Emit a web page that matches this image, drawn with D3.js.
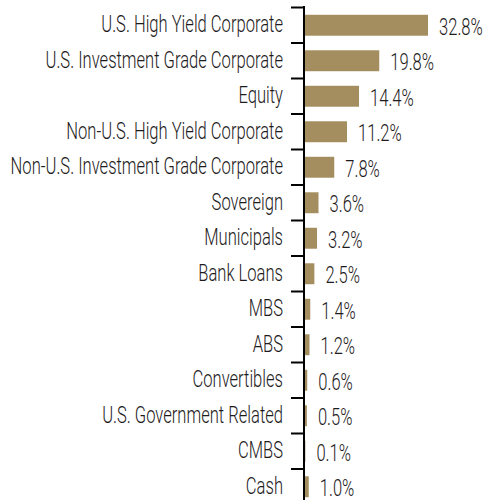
<!DOCTYPE html>
<html>
<head>
<meta charset="utf-8">
<script src="https://cdn.jsdelivr.net/npm/d3@7"></script>
<style>
  html, body { margin: 0; padding: 0; background: #fff; }
  svg { display: block; }
  text { font-family: Roboto, "Liberation Sans Narrow", sans-serif; font-weight: 300; fill: #1e1b1c; }
</style>
</head>
<body>
<svg id="chart" width="484" height="500"></svg>
<script>
// Sector allocation (% of portfolio)
const categories = [
  "U.S. High Yield Corporate",
  "U.S. Investment Grade Corporate",
  "Equity",
  "Non-U.S. High Yield Corporate",
  "Non-U.S. Investment Grade Corporate",
  "Sovereign",
  "Municipals",
  "Bank Loans",
  "MBS",
  "ABS",
  "Convertibles",
  "U.S. Government Related",
  "CMBS",
  "Cash"
];
const values = [32.8, 19.8, 14.4, 11.2, 7.8, 3.6, 3.2, 2.5, 1.4, 1.2, 0.6, 0.5, 0.1, 1.0];
const valueLabels = ["32.8%", "19.8%", "14.4%", "11.2%", "7.8%", "3.6%", "3.2%", "2.5%", "1.4%", "1.2%", "0.6%", "0.5%", "0.1%", "1.0%"];

const data = categories.map((c, i) => ({ name: c, value: values[i], label: valueLabels[i] }));

const svg = d3.select("#chart");
const axisX = 304;
const condense = 0.705;   // horizontal squeeze for a condensed look
const fontSize = 23.5;

const y = d3.scaleBand()
  .domain(categories)
  .range([7.5, 504.5])
  .paddingInner(0.41)
  .paddingOuter(0.205);

const x = d3.scaleLinear()
  .domain([0, 40])
  .range([axisX + 1, axisX + 151]);

// bars
svg.append("g")
  .selectAll("rect")
  .data(data)
  .join("rect")
  .attr("x", x(0))
  .attr("y", d => y(d.name))
  .attr("width", d => x(d.value) - x(0))
  .attr("height", y.bandwidth())
  .attr("fill", "#a48e60");

// category labels
svg.append("g")
  .selectAll("text")
  .data(data)
  .join("text")
  .attr("text-anchor", "end")
  .attr("font-size", fontSize)
  .attr("transform", d => `translate(283,${y(d.name) + y.bandwidth() / 2 + 7}) scale(${condense},1)`)
  .text(d => d.name);

// value labels
svg.append("g")
  .selectAll("text")
  .data(data)
  .join("text")
  .attr("text-anchor", "start")
  .attr("font-size", fontSize)
  .attr("transform", d => `translate(${x(d.value) + 11},${y(d.name) + y.bandwidth() / 2 + 9.5}) scale(${condense},1)`)
  .text(d => d.label);

// axis line with boundary ticks between categories
const axisG = svg.append("g");
const step = y.step();
const yStart = y.range()[0];
axisG.append("line")
  .attr("x1", axisX).attr("x2", axisX)
  .attr("y1", yStart - 1.5).attr("y2", y.range()[1])
  .attr("stroke", "#000").attr("stroke-width", 2);
axisG.selectAll("line.tick")
  .data(categories)
  .join("line")
  .attr("class", "tick")
  .attr("x1", axisX - 13).attr("x2", axisX)
  .attr("y1", d => y(d) - step * y.paddingOuter())
  .attr("y2", d => y(d) - step * y.paddingOuter())
  .attr("stroke", "#000").attr("stroke-width", 2);
</script>
</body>
</html>
